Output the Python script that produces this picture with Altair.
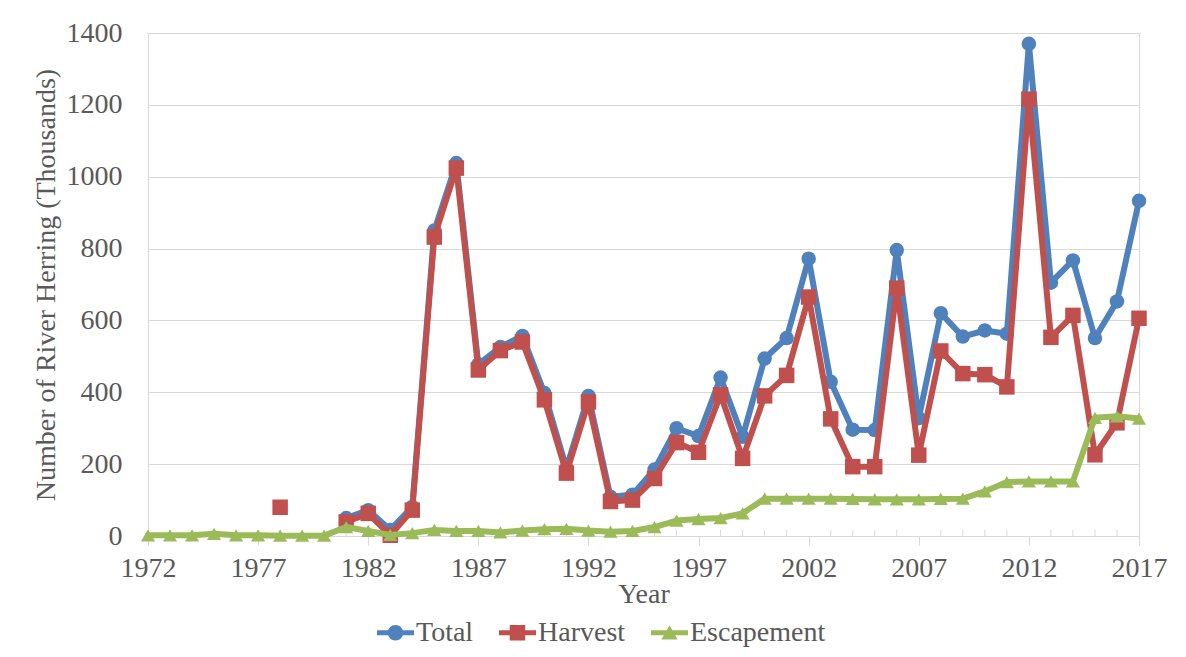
import altair as alt
import pandas as pd

# ---------------- data ----------------
years = list(range(1972, 2018))

total = [None, None, None, None, None, None, None, None, None,
         50, 72, 17, 81, 850, 1038, 478, 526, 557, 398,
         189, 390, 109, 115, 185, 300, 278, 441, 276, 494,
         551, 772, 429, 296, 295, 796, 328, 620, 555, 572,
         563, 1370, 705, 767, 551, 653, 933]

harvest = [None, None, None, None, None, None, 80, None, None,
           39, 63, 2, 72, 832, 1024, 462, 516, 540, 379,
           175, 373, 96, 100, 160, 260, 233, 393, 216, 390,
           447, 665, 326, 193, 193, 690, 225, 515, 452, 449,
           415, 1216, 553, 614, 226, 315, 606]

escapement = [2, 2, 2, 6, 2, 2, 1, 1, 1,
              25, 14, 3, 8, 17, 14, 14, 10, 15, 19,
              20, 15, 12, 14, 25, 43, 47, 50, 63, 104,
              104, 104, 104, 103, 102, 102, 102, 103, 104, 124,
              150, 152, 152, 152, 329, 333, 327]

series_names = ["Total", "Harvest", "Escapement"]
series_values = [total, harvest, escapement]
series_colors = ["#4F81BD", "#C0504D", "#9BBB59"]
series_shapes = ["circle", "square", "triangle-up"]
series_sizes = [210, 240, 200]

# legend glyphs: a short line with the series marker on it
legend_paths = [
    "M-1,-0.13H1V0.13H-1Z M-0.42,0A0.42,0.42 0 1 1 0.42,0A0.42,0.42 0 1 1 -0.42,0Z",
    "M-1,-0.13H1V0.13H-1Z M-0.42,-0.42H0.42V0.42H-0.42Z",
    "M-1,-0.13H1V0.13H-1Z M0,-0.4L0.44,0.36H-0.44Z",
]

y_ticks = list(range(0, 1401, 200))
x_major = list(range(1972, 2018, 5))
x_minor = [y for y in years if (y - 1972) % 5 != 0]

# ------------- build table -------------
rows = []
for name, vals in zip(series_names, series_values):
    seg = 0
    for yr, v in zip(years, vals):
        if v is None:
            seg += 1
            continue
        rows.append({"Year": yr, "Value": v, "Series": name, "Segment": f"{name}-{seg}"})
df = pd.DataFrame(rows)
minor_df = pd.DataFrame({"Year": x_minor})

W, H = 991, 503
FONT = "Liberation Serif"
FS = 28
TXT = "#595959"
GRID = "#d9d9d9"

x_enc = alt.X(
    "Year:Q",
    scale=alt.Scale(domain=[1972, 2017], nice=False, zero=False),
    axis=alt.Axis(
        values=x_major, format="d", tickSize=9, tickColor=GRID, domainColor=GRID,
        grid=False, labelFont=FONT, labelFontSize=FS, labelColor=TXT,
        labelPadding=9, labelFlush=False, labelOverlap=False,
        title="Year", titleFont=FONT, titleFontSize=FS, titleFontWeight="normal",
        titleColor=TXT, titlePadding=-2,
    ),
)
y_enc = alt.Y(
    "Value:Q",
    scale=alt.Scale(domain=[0, 1400], nice=False),
    axis=alt.Axis(
        values=y_ticks, format="d", ticks=False, tickSize=0, domainColor=GRID, gridColor=GRID,
        labelFont=FONT, labelFontSize=FS, labelColor=TXT, labelPadding=26,
        title="Number of River Herring (Thousands)", titleFont=FONT,
        titleFontSize=FS, titleFontWeight="normal", titleColor=TXT, titlePadding=6,
    ),
)

legend = alt.Legend(
    title=None, orient="none", direction="horizontal",
    legendX=229, legendY=581,
    labelFont=FONT, labelFontSize=FS, labelColor=TXT, labelOffset=2,
    columnPadding=25, symbolSize=1369, symbolOpacity=1, symbolStrokeWidth=0,
)

minor_ticks = alt.Chart(minor_df).mark_rule(color=GRID, strokeWidth=1).encode(
    x=alt.X("Year:Q"),
    y=alt.value(H - 6),
    y2=alt.value(H),
)

layers = [minor_ticks]
base = alt.Chart(df)
for name, col, shp, sz in zip(series_names, series_colors, series_shapes, series_sizes):
    sub = base.transform_filter(alt.datum.Series == name)
    line = sub.mark_line(strokeWidth=6, strokeJoin="round", strokeCap="round", color=col).encode(
        x=x_enc, y=y_enc, detail="Segment:N", order="Year:Q"
    )
    pts = sub.mark_point(shape=shp, filled=True, size=sz, color=col, opacity=1).encode(
        x=x_enc, y=y_enc
    )
    layers += [line, pts]

# legend-only layer (no rows drawn; entries come from the scale domains)
legend_layer = base.transform_filter("datum.Year < 0").mark_point(
    filled=True, opacity=1, size=1369
).encode(
    x=x_enc, y=y_enc,
    color=alt.Color("Series:N", scale=alt.Scale(domain=series_names, range=series_colors), legend=legend),
    shape=alt.Shape("Series:N", scale=alt.Scale(domain=series_names, range=legend_paths), legend=legend),
)
layers.append(legend_layer)

chart = (
    alt.layer(*layers)
    .properties(width=W, height=H, padding={"left": 24, "top": 11, "right": 10, "bottom": 10},
                background="white")
    .configure_view(stroke=GRID, strokeWidth=1)
)

chart.save("out.html", embed_options={"renderer": "svg", "actions": False})
